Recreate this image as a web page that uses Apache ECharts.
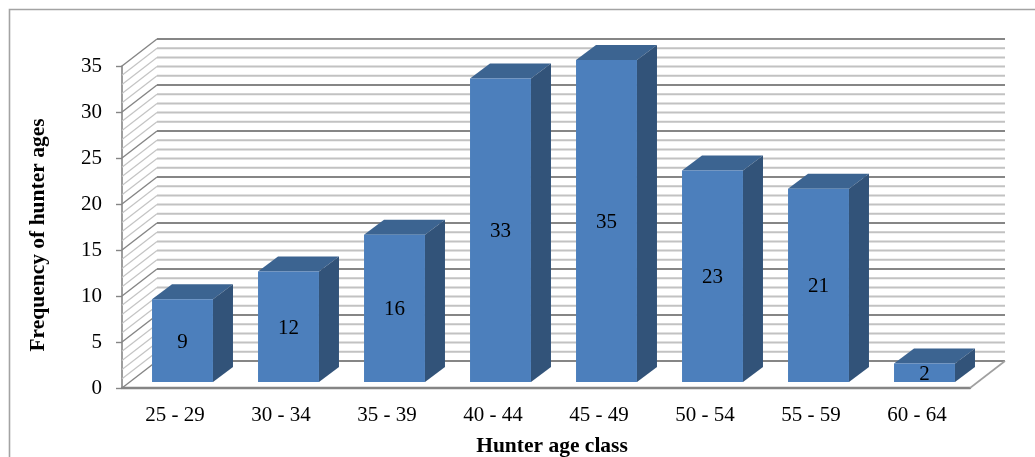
<!DOCTYPE html>
<html>
<head>
<meta charset="utf-8">
<style>html,body{margin:0;padding:0;background:#fff}#chart{width:1035px;height:457px}</style>
<script src="https://cdn.jsdelivr.net/npm/echarts@6/dist/echarts.min.js"></script>
</head>
<body>
<div id="chart"></div>
<script>
// Frequency of hunters per age class
const ageClasses = ['25 - 29', '30 - 34', '35 - 39', '40 - 44', '45 - 49', '50 - 54', '55 - 59', '60 - 64'];
const frequencies = [9, 12, 16, 33, 35, 23, 21, 2];
const wallLevels = [0, 1, 2, 3, 4, 5, 6, 7, 8, 9, 10, 11, 12, 13, 14, 15, 16, 17,
  18, 19, 20, 21, 22, 23, 24, 25, 26, 27, 28, 29, 30, 31, 32, 33, 34, 35];

// Depth of the floor and of the bars, in pixels
const WALL_DX = 35, WALL_DY = -27;
const BAR_DX = 20, BAR_DY = -15, BAR_SHIFT_X = 7.5, BAR_SHIFT_Y = -6;
const FONT = '"Liberation Serif", "Times New Roman", serif';

// Back wall and left wall rulings, one set per level
function renderWall(params, api) {
  const level = api.value(0);
  const sys = params.coordSys;
  const y = api.coord([0, level])[1];
  const major = level % 5 === 0;
  const color = major ? '#868686' : '#c2c2c2';
  const children = [];
  children.push({
    type: 'line',
    shape: { x1: sys.x + WALL_DX, y1: y + WALL_DY, x2: sys.x + sys.width + WALL_DX, y2: y + WALL_DY },
    style: { stroke: color, lineWidth: 2 }
  });
  children.push({
    type: 'line',
    shape: { x1: sys.x, y1: y, x2: sys.x + WALL_DX, y2: y + WALL_DY },
    style: { stroke: major ? '#858585' : '#c4c4c4', lineWidth: major ? 1.4 : 1.2 }
  });
  if (level === 0) {
    children.push({
      type: 'line',
      shape: { x1: sys.x + sys.width, y1: y, x2: sys.x + sys.width + WALL_DX, y2: y + WALL_DY },
      style: { stroke: '#a0a0a0', lineWidth: 1.6 }
    });
  }
  return { type: 'group', children };
}

// One box: front face, top face, side face and its value
function renderBar(params, api) {
  const value = api.value(1);
  const top = api.coord([api.value(0), value]);
  const base = api.coord([api.value(0), 0]);
  const w = api.size([1, 0])[0] * 0.575;
  const x0 = top[0] - w / 2 + BAR_SHIFT_X;
  const x1 = x0 + w;
  const yt = top[1] + BAR_SHIFT_Y;
  const yb = base[1] + BAR_SHIFT_Y;
  return {
    type: 'group',
    children: [
      { type: 'polygon',
        shape: { points: [[x0, yt], [x1, yt], [x1 + BAR_DX, yt + BAR_DY], [x0 + BAR_DX, yt + BAR_DY]] },
        style: { fill: '#3c6491' } },
      { type: 'polygon',
        shape: { points: [[x1, yt], [x1 + BAR_DX, yt + BAR_DY], [x1 + BAR_DX, yb + BAR_DY], [x1, yb]] },
        style: { fill: '#325379' } },
      { type: 'rect',
        shape: { x: x0, y: yt, width: w, height: yb - yt },
        style: { fill: '#4c7fbc' } },
      { type: 'text',
        style: {
          x: (x0 + x1) / 2, y: (yt + yb) / 2 + 1.5, text: String(value),
          fill: '#000', font: '21px ' + FONT, textAlign: 'center', textVerticalAlign: 'middle'
        } }
    ]
  };
}

const chart = echarts.init(document.getElementById('chart'), null, { renderer: 'canvas' });
chart.setOption({
  animation: false,
  backgroundColor: '#fff',
  graphic: [{
    type: 'rect', silent: true, z: -1,
    shape: { x: 9.5, y: 9.5, width: 1040, height: 460 },
    style: { fill: 'none', stroke: '#a3a3a3', lineWidth: 1.6 }
  }],
  grid: { left: 122, top: 66, width: 848, height: 322, outerBoundsMode: 'none' },
  xAxis: {
    type: 'category',
    data: ageClasses,
    name: 'Hunter age class',
    nameLocation: 'middle',
    nameGap: 47,
    nameTextStyle: { fontFamily: FONT, fontSize: 21.5, fontWeight: 'bold', color: '#000', padding: [0, 0, 0, 12] },
    axisLine: { lineStyle: { color: '#858585', width: 2.4 } },
    axisTick: { show: false },
    axisLabel: { fontFamily: FONT, fontSize: 21, color: '#000', margin: 17 }
  },
  yAxis: {
    type: 'value',
    min: 0,
    max: 35,
    interval: 5,
    name: 'Frequency of hunter ages',
    nameLocation: 'middle',
    nameGap: 73,
    nameTextStyle: { fontFamily: FONT, fontSize: 21.5, fontWeight: 'bold', color: '#000', padding: [0, 16, 0, 0] },
    axisLine: { show: true, lineStyle: { color: '#858585', width: 1.6 } },
    axisTick: { show: true, length: 6, lineStyle: { color: '#858585', width: 1.4 } },
    axisLabel: { fontFamily: FONT, fontSize: 21, color: '#000', margin: 20, padding: [3, 0, 0, 0] },
    splitLine: { show: false }
  },
  series: [
    {
      type: 'custom',
      silent: true,
      renderItem: renderWall,
      encode: { y: 0 },
      data: wallLevels.map(v => [v]),
      z: 1
    },
    {
      type: 'custom',
      silent: true,
      renderItem: renderBar,
      encode: { x: 0, y: 1 },
      data: frequencies.map((v, i) => [i, v]),
      z: 2
    }
  ]
});
</script>
</body>
</html>
